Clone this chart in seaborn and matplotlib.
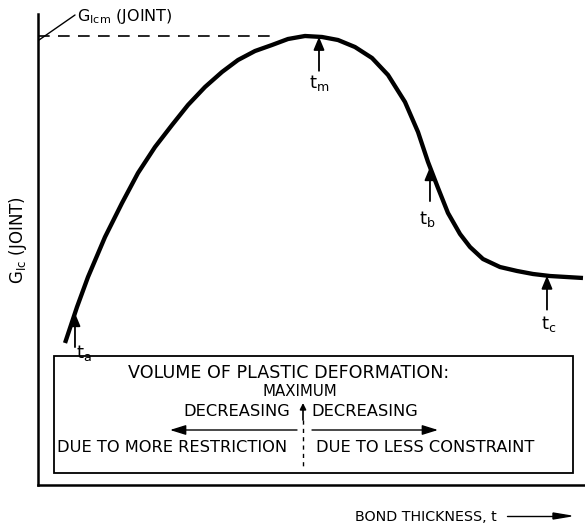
import numpy as np
import pandas as pd
import seaborn as sns
import matplotlib.pyplot as plt
from matplotlib.patches import Rectangle

# ---- data (arbitrary units) ----
thickness = [0.494, 0.713, 0.914, 1.225, 1.536, 1.828, 2.139, 2.450, 2.742,
             3.053, 3.364, 3.656, 3.967, 4.278, 4.570, 4.881, 5.192, 5.484,
             5.795, 6.106, 6.399, 6.709, 6.947, 7.130, 7.313, 7.495, 7.715,
             7.898, 8.135, 8.446, 8.757, 9.049, 9.360, 9.963]
g_ic = [3.015, 3.779, 4.416, 5.265, 5.987, 6.624, 7.176, 7.643, 8.068,
        8.450, 8.769, 9.023, 9.214, 9.342, 9.469, 9.533, 9.512, 9.448,
        9.299, 9.066, 8.705, 8.132, 7.495, 6.858, 6.306, 5.775, 5.329,
        5.053, 4.798, 4.628, 4.544, 4.480, 4.437, 4.395]
marker_names = ["a", "m", "b", "c"]
marker_t = [0.676, 5.137, 7.166, 9.305]

sns.set_theme(style="white")
plt.rcParams['font.family'] = ['DejaVu Sans']
plt.rcParams['mathtext.fontset'] = 'dejavusans'
plt.rcParams['text.color'] = 'black'

fig = plt.figure(figsize=(5.85, 5.32), dpi=100)
ax = fig.add_axes([38/585, 47/532, 547/585, 471/532])
ax.set_xlim(0, 10)
ax.set_ylim(0, 10)
ax.set_xticks([])
ax.set_yticks([])
for s in ["top", "right"]:
    ax.spines[s].set_visible(False)
for s in ["left", "bottom"]:
    ax.spines[s].set_color("black")
    ax.spines[s].set_linewidth(1.8)

def P(x, y):
    return ((x - 38) / 54.7, (485 - y) / 47.1)

df = pd.DataFrame({"t": thickness, "G": g_ic})
sns.lineplot(data=df, x="t", y="G", ax=ax, color="black", lw=3.1,
             sort=False, legend=False, solid_joinstyle="round",
             solid_capstyle="butt")
ax.set_xlabel("")
ax.set_ylabel("")

# maximum dashed line
gmax = max(g_ic)
tpeak = thickness[int(np.argmax(g_ic))]
ax.plot([0, tpeak - 0.6], [gmax, gmax], color="black", lw=1.2, dashes=(7, 5))
ax.plot(*zip(P(39, 40), P(75, 15)), color="black", lw=1.0)
ax.text(*P(77, 17), r"$\mathrm{G_{Icm}}$ (JOINT)", fontsize=11.5, va="center", ha="left")

# markers
label_off = {"a": (9, 40), "m": (0, 46), "b": (-3, 52), "c": (2, 48)}
arrow_len = 34
for name, t in zip(marker_names, marker_t):
    g = np.interp(t, thickness, g_ic)
    tail = g - arrow_len / 47.1
    ax.annotate("", xy=(t, g), xytext=(t, tail),
                arrowprops=dict(arrowstyle="-|>,head_width=0.25,head_length=0.6",
                                color="black", lw=1.3,
                                mutation_scale=13, shrinkA=0, shrinkB=0))
    dx, dy = label_off[name]
    ax.text(t + dx / 54.7, g - dy / 47.1, r"$\mathrm{t_%s}$" % name,
            fontsize=13, ha="center", va="center")

# box
x0, y0 = P(54, 473)
x1, y1 = P(573, 356)
ax.add_patch(Rectangle((x0, y0), x1 - x0, y1 - y0, fill=False, ec="black", lw=1.3))
fs = 11.7
ax.text(*P(289, 373), "VOLUME OF PLASTIC DEFORMATION:", fontsize=12.6, ha="center", va="center")
ax.text(*P(300, 392), "MAXIMUM", fontsize=10.8, ha="center", va="center")
ax.text(*P(290, 412), "DECREASING", fontsize=fs, ha="right", va="center")
ax.text(*P(311, 412), "DECREASING", fontsize=fs, ha="left", va="center")
ax.text(*P(57, 448), "DUE TO MORE RESTRICTION", fontsize=fs, ha="left", va="center")
ax.text(*P(316, 448), "DUE TO LESS CONSTRAINT", fontsize=fs, ha="left", va="center")
ax.annotate("", xy=P(170, 430), xytext=P(297, 430),
            arrowprops=dict(arrowstyle="-|>,head_width=0.25,head_length=0.8",
                            color="black", lw=1.0,
                            mutation_scale=12, shrinkA=0, shrinkB=0))
ax.annotate("", xy=P(438, 430), xytext=P(312, 430),
            arrowprops=dict(arrowstyle="-|>,head_width=0.25,head_length=0.8",
                            color="black", lw=1.0,
                            mutation_scale=12, shrinkA=0, shrinkB=0))
ax.annotate("", xy=P(303, 403), xytext=P(303, 420),
            arrowprops=dict(arrowstyle="-|>", color="black", lw=1.2,
                            mutation_scale=9, shrinkA=0, shrinkB=0))
ax.plot(*zip(P(303, 420), P(303, 470)), color="black", lw=1.0, dashes=(3, 3))

# axis labels
fig.text(18 / 585, 1 - 240 / 532, r"$\mathrm{G_{Ic}}$ (JOINT)", rotation=90,
         fontsize=12, ha="center", va="center")
fig.text(355 / 585, 1 - 517 / 532, "BOND THICKNESS, t", fontsize=10.3,
         ha="left", va="center")
fig.add_artist(plt.Line2D([507 / 585, 560 / 585], [1 - 516 / 532, 1 - 516 / 532],
                          color="black", lw=1.0))
fig.patches.append(plt.Polygon([[553 / 585, 1 - 513 / 532], [571 / 585, 1 - 516 / 532],
                                [553 / 585, 1 - 519 / 532]], closed=True,
                               transform=fig.transFigure, color="black"))

fig.savefig("out.png", dpi=100)
